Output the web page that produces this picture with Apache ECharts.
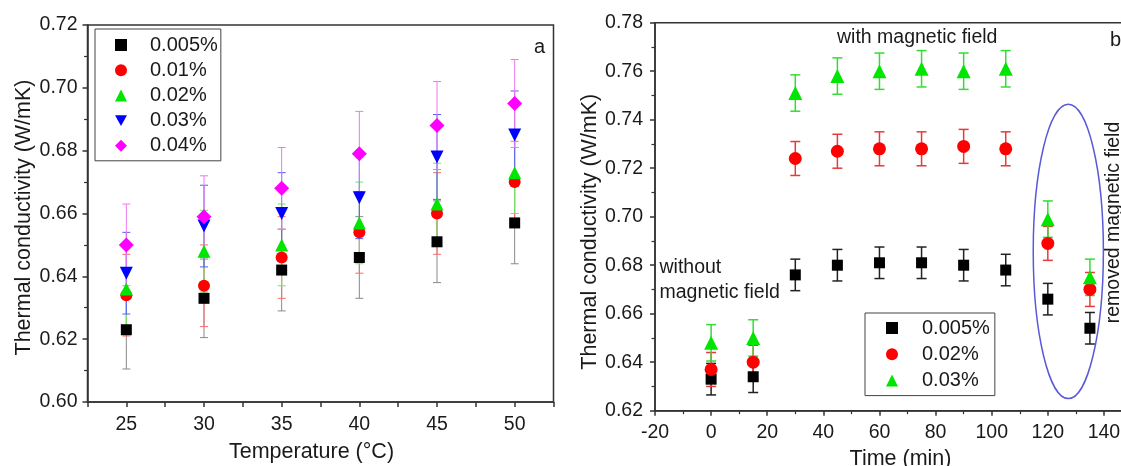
<!DOCTYPE html>
<html><head><meta charset="utf-8">
<script src="https://cdn.jsdelivr.net/npm/echarts@6/dist/echarts.min.js"></script>
<style>html,body{margin:0;padding:0;background:#fff}#c{width:1121px;height:466px}</style>
</head><body><div id="c"></div>
<script>
// ---------- Panel a : conductivity vs temperature ----------
const temperatures = [25, 30, 35, 40, 45, 50];
const tempNames = ['0.005%', '0.01%', '0.02%', '0.03%', '0.04%'];
const k005 = [0.623, 0.633, 0.642, 0.646, 0.651, 0.657];
const k01  = [0.634, 0.637, 0.646, 0.654, 0.660, 0.670];
const k02  = [0.636, 0.648, 0.650, 0.657, 0.663, 0.673];
const k03  = [0.641, 0.656, 0.660, 0.665, 0.678, 0.685];
const k04  = [0.650, 0.659, 0.668, 0.679, 0.688, 0.695];
const e005 = [0.0125, 0.0125, 0.013, 0.013, 0.013, 0.013];
const e01  = [0.013, 0.013, 0.013, 0.013, 0.013, 0.013];
const e02  = [0.013, 0.013, 0.013, 0.013, 0.013, 0.013];
const e03  = [0.013, 0.013, 0.013, 0.013, 0.0135, 0.014];
const e04  = [0.013, 0.013, 0.013, 0.0135, 0.014, 0.014];

// ---------- Panel b : conductivity vs time ----------
const times = [0, 15, 30, 45, 60, 75, 90, 105, 120, 135];
const timeNames = ['0.005%', '0.02%', '0.03%'];
const t005 = [0.633, 0.634, 0.676, 0.680, 0.681, 0.681, 0.680, 0.678, 0.666, 0.654];
const t02  = [0.637, 0.640, 0.724, 0.727, 0.728, 0.728, 0.729, 0.728, 0.689, 0.670];
const t03  = [0.648, 0.650, 0.751, 0.758, 0.760, 0.761, 0.760, 0.761, 0.699, 0.675];
const te005 = [0.0065, 0.0065, 0.0065, 0.0065, 0.0065, 0.0065, 0.0065, 0.0065, 0.0065, 0.0065];
const te02  = [0.007, 0.007, 0.007, 0.007, 0.007, 0.007, 0.007, 0.007, 0.007, 0.007];
const te03  = [0.0075, 0.0075, 0.0075, 0.0075, 0.0075, 0.0075, 0.0075, 0.0075, 0.0075, 0.0075];

// Highlight ellipse (data coordinates of panel b): centre, half width (min), half height (W/mK)
const ellipseCentre = [127.3, 0.6857];
const ellipseHalf = [12.5, 0.0607];

const FONT = '"Liberation Sans", Arial, Helvetica, sans-serif';
const TXT = '#1a1a1a';
const AX = '#333';

function pts(xs, ys) { return xs.map((x, i) => [x, ys[i]]); }
function errs(xs, ys, es) { return xs.map((x, i) => [x, ys[i] - es[i], ys[i] + es[i]]); }

function errRender(capHalf, color, width) {
  return function (params, api) {
    const x = api.value(0);
    const top = api.coord([x, api.value(2)]);
    const bot = api.coord([x, api.value(1)]);
    const st = { stroke: color, lineWidth: width, fill: null };
    return { type: 'group', children: [
      { type: 'line', shape: { x1: top[0], y1: top[1], x2: bot[0], y2: bot[1] }, style: st },
      { type: 'line', shape: { x1: top[0] - capHalf, y1: top[1], x2: top[0] + capHalf, y2: top[1] }, style: st },
      { type: 'line', shape: { x1: bot[0] - capHalf, y1: bot[1], x2: bot[0] + capHalf, y2: bot[1] }, style: st }
    ]};
  };
}

const DOWN_TRI = 'path://M0,0L10,0L5,9Z';

const leftDefs = [
  { name: tempNames[0], y: k005, e: e005, sym: 'rect', size: 11, color: '#000000', ec: '#8a8a8a' },
  { name: tempNames[1], y: k01, e: e01, sym: 'circle', size: 12, color: '#ff0000', ec: '#ff6a6a' },
  { name: tempNames[2], y: k02, e: e02, sym: 'triangle', size: 13, color: '#00e600', ec: '#66ee66' },
  { name: tempNames[3], y: k03, e: e03, sym: DOWN_TRI, size: 13, color: '#0000ff', ec: '#5a5aff' },
  { name: tempNames[4], y: k04, e: e04, sym: 'diamond', size: 15, color: '#ff00ff', ec: '#ee77ee' }
];
const rightDefs = [
  { name: 'b:' + timeNames[0], y: t005, e: te005, sym: 'rect', size: 11, color: '#000000', ec: '#222222' },
  { name: 'b:' + timeNames[1], y: t02, e: te02, sym: 'circle', size: 13, color: '#ff0000', ec: '#e83a3a' },
  { name: 'b:' + timeNames[2], y: t03, e: te03, sym: 'triangle', size: 14, color: '#00e600', ec: '#33dd33' }
];

const series = [];
leftDefs.forEach((d, i) => {
  series.push({ type: 'custom', name: 'err-a-' + i, xAxisIndex: 0, yAxisIndex: 0, z: 2,
    renderItem: errRender(4, d.ec, 1), encode: { x: 0, y: [1, 2] }, data: errs(temperatures, d.y, d.e), silent: true });
});
leftDefs.forEach(d => {
  series.push({ type: 'scatter', name: d.name, xAxisIndex: 0, yAxisIndex: 0, z: 3,
    symbol: d.sym, symbolSize: d.size, itemStyle: { color: d.color, opacity: 1 }, data: pts(temperatures, d.y) });
});
rightDefs.forEach((d, i) => {
  series.push({ type: 'custom', name: 'err-b-' + i, xAxisIndex: 1, yAxisIndex: 1, z: 2,
    renderItem: errRender(5, d.ec, 1.5), encode: { x: 0, y: [1, 2] }, data: errs(times, d.y, d.e), silent: true });
});
rightDefs.forEach(d => {
  series.push({ type: 'scatter', name: d.name, xAxisIndex: 1, yAxisIndex: 1, z: 3,
    symbol: d.sym, symbolSize: d.size, itemStyle: { color: d.color, opacity: 1 }, data: pts(times, d.y) });
});

const axisCommon = {
  axisLine: { show: true, onZero: false, lineStyle: { color: AX, width: 1.5 } },
  axisTick: { show: true, inside: false, length: 5, lineStyle: { color: AX, width: 1.5 } },
  splitLine: { show: false },
  nameLocation: 'middle'
};
const nameStyle = { fontFamily: FONT, fontSize: 21.5, color: TXT };
const labelCommon = { fontFamily: FONT, fontSize: 19.5, color: TXT };

const chart = echarts.init(document.getElementById('c'), null, { renderer: 'canvas' });
chart.setOption({
  backgroundColor: '#ffffff',
  animation: false,
  textStyle: { fontFamily: FONT },
  grid: [
    { left: 87.5, top: 25, width: 466, height: 377, show: true, borderColor: AX, borderWidth: 1.5,
      containLabel: false, outerBoundsMode: 'none' },
    { left: 655, top: 22.7, width: 477, height: 388, show: true, borderColor: AX, borderWidth: 1.5,
      containLabel: false, outerBoundsMode: 'none' }
  ],
  xAxis: [
    Object.assign({}, axisCommon, { type: 'value', gridIndex: 0, min: 22.5, max: 52.5, interval: 2.5,
      name: 'Temperature (°C)', nameGap: 39,
      nameTextStyle: Object.assign({}, nameStyle, { padding: [0, 18, 0, 0] }),
      axisLabel: Object.assign({}, labelCommon, { margin: 13,
        formatter: v => (temperatures.indexOf(v) >= 0 ? String(v) : '') }) }),
    Object.assign({}, axisCommon, { type: 'value', gridIndex: 1, min: -20, max: 150, interval: 20,
      name: 'Time (min)', nameGap: 35,
      nameTextStyle: Object.assign({}, nameStyle, { padding: [0, 0, 0, 14] }),
      minorTick: { show: true, splitNumber: 2, length: 3.5, lineStyle: { color: AX, width: 1.2 } },
      axisLabel: Object.assign({}, labelCommon, { margin: 12, showMaxLabel: false,
        formatter: v => (v > 140 ? '' : String(v)) }) })
  ],
  yAxis: [
    Object.assign({}, axisCommon, { type: 'value', gridIndex: 0, min: 0.60, max: 0.72, interval: 0.02,
      name: 'Thermal conductivity (W/mK)', nameGap: 52,
      nameTextStyle: Object.assign({}, nameStyle, { padding: [0, 8, 0, 0] }),
      minorTick: { show: true, splitNumber: 2, length: 3.5, lineStyle: { color: AX, width: 1.2 } },
      axisLabel: Object.assign({}, labelCommon, { margin: 10, formatter: v => v.toFixed(2) }) }),
    Object.assign({}, axisCommon, { type: 'value', gridIndex: 1, min: 0.62, max: 0.78, interval: 0.02,
      name: 'Thermal conductivity (W/mK)', nameGap: 53,
      nameTextStyle: Object.assign({}, nameStyle, { padding: [0, 30, 0, 0] }),
      minorTick: { show: true, splitNumber: 2, length: 3.5, lineStyle: { color: AX, width: 1.2 } },
      axisLabel: Object.assign({}, labelCommon, { margin: 12, formatter: v => v.toFixed(2) }) })
  ],
  legend: [
    { data: tempNames, orient: 'vertical', left: 95, top: 29, padding: [6, 3, 5, 20], itemGap: 5.2,
      itemWidth: 12, itemHeight: 12, borderColor: '#444', borderWidth: 1, selectedMode: false,
      textStyle: { fontFamily: FONT, fontSize: 20, color: TXT, lineHeight: 20, padding: [0, 0, 0, 18] } },
    { data: rightDefs.map(d => d.name), orient: 'vertical', left: 865, top: 313, padding: [5, 5, 5, 21], itemGap: 6.3,
      itemWidth: 12, itemHeight: 12, borderColor: '#444', borderWidth: 1, selectedMode: false,
      formatter: n => n.replace('b:', ''),
      textStyle: { fontFamily: FONT, fontSize: 20, color: TXT, lineHeight: 20, padding: [0, 0, 0, 19] } }
  ],
  series: series
});

// Annotations
const refIdx = series.findIndex(s => s.name === rightDefs[0].name);
const c = chart.convertToPixel({ seriesIndex: refIdx }, ellipseCentre);
const e1 = chart.convertToPixel({ seriesIndex: refIdx }, [ellipseCentre[0] + ellipseHalf[0], ellipseCentre[1] + ellipseHalf[1]]);
const annFont = '19.5px ' + FONT;
chart.setOption({
  graphic: [
    { type: 'ellipse', shape: { cx: c[0], cy: c[1], rx: Math.abs(e1[0] - c[0]), ry: Math.abs(c[1] - e1[1]) },
      style: { fill: null, stroke: '#5a5ad8', lineWidth: 1.5 }, z: 10, silent: true },
    { type: 'text', x: 534, y: 47, style: { text: 'a', font: '20px ' + FONT, fill: TXT, verticalAlign: 'middle' }, z: 10 },
    { type: 'text', x: 1110, y: 40, style: { text: 'b', font: '20px ' + FONT, fill: TXT, verticalAlign: 'middle' }, z: 10 },
    { type: 'text', x: 837, y: 37.5, style: { text: 'with magnetic field', font: annFont, fill: TXT, verticalAlign: 'middle' }, z: 10 },
    { type: 'text', x: 659.5, y: 268, style: { text: 'without', font: annFont, fill: TXT, verticalAlign: 'middle' }, z: 10 },
    { type: 'text', x: 659.5, y: 292.5, style: { text: 'magnetic field', font: annFont, fill: TXT, verticalAlign: 'middle' }, z: 10 },
    { type: 'text', x: 1114, y: 222.5, rotation: Math.PI / 2,
      style: { text: 'removed magnetic field', font: annFont, fill: TXT, align: 'center', verticalAlign: 'middle' }, z: 10 }
  ]
});
</script></body></html>
